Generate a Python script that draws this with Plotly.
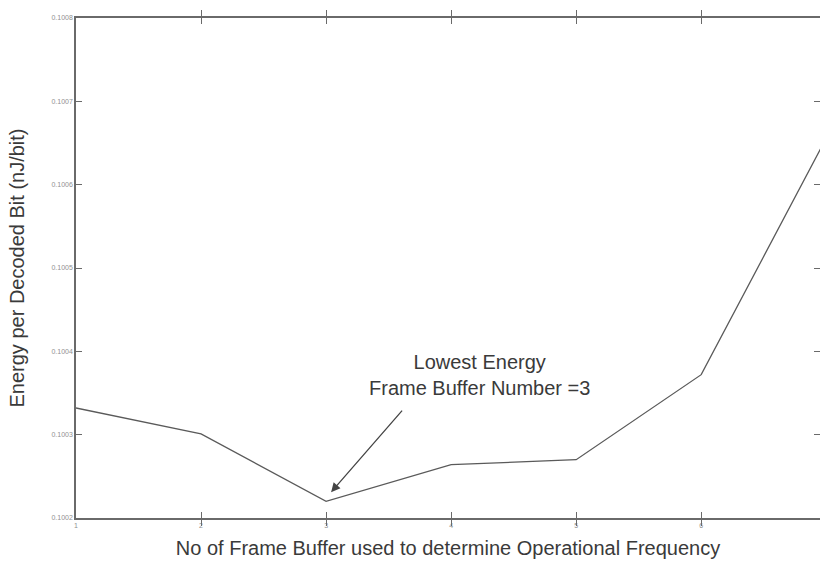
import plotly.graph_objects as go

# Frame buffer count vs. energy per decoded bit
frame_buffers = [1, 2, 3, 4, 5, 6, 7]
energy_nj_per_bit = [0.100332, 0.100301, 0.100220, 0.100264, 0.100270, 0.100372, 0.100656]

y_ticks = [0.1002, 0.1003, 0.1004, 0.1005, 0.1006, 0.1007, 0.1008]
x_ticks = [1, 2, 3, 4, 5, 6, 7]

axis_color = "#6a6a6a"
line_color = "#5a5a5a"
text_font = "Liberation Sans, Arial"

fig = go.Figure()
fig.add_trace(go.Scatter(
    x=frame_buffers, y=energy_nj_per_bit, mode="lines",
    line=dict(color=line_color, width=1.3),
    showlegend=False, hoverinfo="skip",
))
# invisible trace to carry the right-hand tick axis
fig.add_trace(go.Scatter(
    x=frame_buffers, y=energy_nj_per_bit, yaxis="y2", mode="lines",
    line=dict(width=0), opacity=0, showlegend=False, hoverinfo="skip",
))

# arrow pointing at the minimum
fig.add_annotation(
    x=3.04, y=0.100231, xref="x", yref="y",
    text=" ", showarrow=True, arrowhead=2, arrowsize=1.4, arrowwidth=1.3,
    arrowcolor="#444444", ax=74, ay=-85, axref="pixel", ayref="pixel",
)
fig.add_annotation(
    x=4.23, y=0.100372, xref="x", yref="y",
    text="Lowest Energy<br>Frame Buffer Number =3", showarrow=False,
    font=dict(family=text_font, size=20, color="#3a3a3a"),
    align="center",
)

fig.update_xaxes(
    range=[1, 6.95], tickvals=x_ticks, ticktext=[str(v) for v in x_ticks],
    ticks="inside", ticklen=6, tickcolor=axis_color,
    showline=True, linecolor=axis_color, linewidth=1.5, mirror="allticks",
    showgrid=False, zeroline=False,
    tickfont=dict(family=text_font, size=7, color="#909090"),
    title=dict(text="No of Frame Buffer used to determine Operational Frequency",
               font=dict(family=text_font, size=20, color="#3a3a3a"),
               standoff=13),
)
fig.update_layout(
    yaxis=dict(
        range=[0.1002, 0.1008], tickvals=y_ticks, tickformat=".4f",
        ticks="inside", ticklen=6, tickcolor=axis_color,
        showline=True, linecolor=axis_color, linewidth=1.5, mirror=False,
        showgrid=False, zeroline=False,
        tickfont=dict(family=text_font, size=7, color="#909090"),
        title=dict(text="Energy per Decoded Bit (nJ/bit)",
                   font=dict(family=text_font, size=20, color="#3a3a3a"),
                   standoff=21),
    ),
    yaxis2=dict(
        range=[0.1002, 0.1008], tickvals=y_ticks, overlaying="y", side="right",
        ticks="inside", ticklen=6, tickcolor=axis_color, showticklabels=False,
        showline=False, showgrid=False, zeroline=False,
    ),
    width=820, height=564,
    margin=dict(l=76, r=0, t=18, b=46),
    paper_bgcolor="white", plot_bgcolor="white",
)

fig.write_html("out.html")
